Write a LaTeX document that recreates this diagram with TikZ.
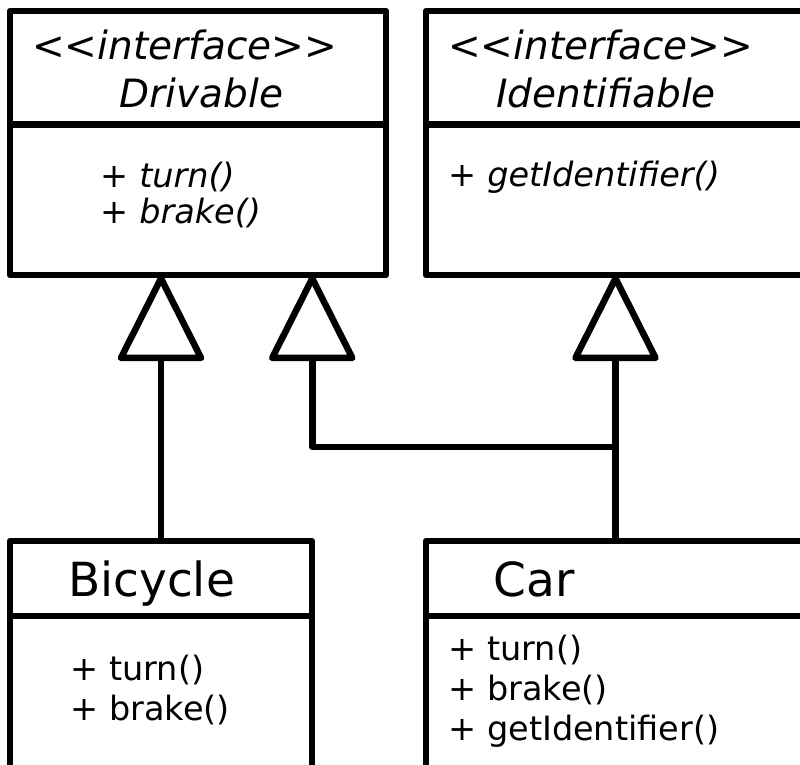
\documentclass[tikz,border=0pt]{standalone}
\usepackage{fontspec}
\setmainfont{DejaVu Sans}
\usetikzlibrary{arrows.meta}
\usetikzlibrary{calc}

% keep << and >> from turning into guillemets
\newcommand{\stereo}[1]{<\kern0pt<#1>\kern0pt>}

\tikzset{
    umlbox/.style={draw, line width=6.5pt, line join=round, inner sep=0pt, fill=white},
    divider/.style={line width=6.5pt},
    realize/.style={line width=6.5pt, line join=round,
        -{Triangle[open, round, length=90pt, width=89pt]}},
    headtext/.style={font=\fontsize{39}{44}\selectfont\itshape, anchor=base},
    classname/.style={font=\fontsize{47}{52}\selectfont, anchor=base},
    member/.style={font=\fontsize{33.5}{38}\selectfont, anchor=base west},
}

\begin{document}
\begin{tikzpicture}[x=1pt, y=-1pt]
    \useasboundingbox (0,0) rectangle (800,765);
    \clip (0,0) rectangle (800,765);
    % interfaces on top, implementing classes below
    \node[umlbox, minimum width=376pt, minimum height=264pt] (drivable) at (198,143) {};
    \node[umlbox, minimum width=379pt, minimum height=264pt] (identifiable) at (615.5,143) {};
    \node[umlbox, minimum width=302pt, minimum height=260pt] (bicycle) at (161,671) {};
    \node[umlbox, minimum width=379pt, minimum height=260pt] (car) at (615.5,671) {};

    \draw[divider] ([yshift=-117pt]drivable.north west) -- ([yshift=-117pt]drivable.north east);
    \draw[divider] ([yshift=-117pt]identifiable.north west) -- ([yshift=-117pt]identifiable.north east);
    \draw[divider] ([yshift=-78pt]bicycle.north west) -- ([yshift=-78pt]bicycle.north east);
    \draw[divider] ([yshift=-78pt]car.north west) -- ([yshift=-78pt]car.north east);

    \node[headtext] (drivstereo) at (184.5,60) {\stereo{interface}};
    \node[headtext] (drivname) at (201.5,108) {Drivable};
    \node[member] (drivturn) at (97,187) {+ \textit{turn()}};
    \node[member] (drivbrake) at (97,223) {+ \textit{brake()}};

    \node[headtext] (identstereo) at (600.5,60) {\stereo{interface}};
    \node[headtext] (identname) at (606,108) {Identifiable};
    \node[member] (identget) at (445,186) {+ \textit{getIdentifier()}};

    \node[classname] (bikename) at (151.5,596) {Bicycle};
    \node[member] (biketurn) at (67,680) {+ turn()};
    \node[member] (bikebrake) at (67,720) {+ brake()};

    \node[classname] (carname) at (534,596) {Car};
    \node[member] (carturn) at (445,660) {+ turn()};
    \node[member] (carbrake) at (445,700) {+ brake()};
    \node[member] (carget) at (445,740) {+ getIdentifier()};

    % realization arrows
    \draw[realize] (bicycle.north) -- ([yshift=3pt]bicycle.north |- drivable.south);
    \draw[realize] (car.north) -- ([yshift=3pt]identifiable.south);
    \draw[realize] ([yshift=91pt]car.north) -| ([xshift=-77pt, yshift=3pt]drivable.south east);
\end{tikzpicture}
\end{document}
